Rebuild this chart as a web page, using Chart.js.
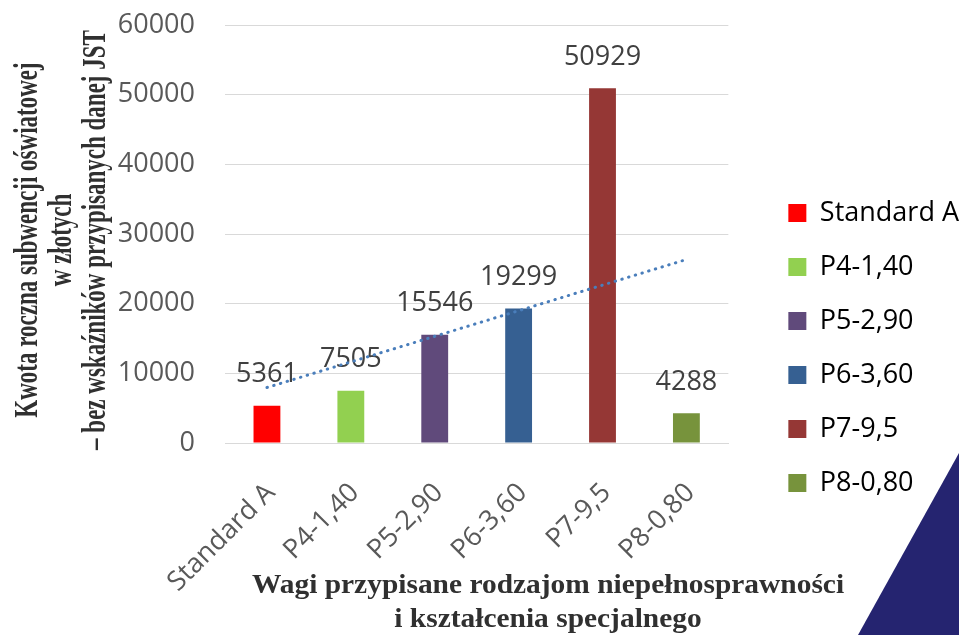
<!DOCTYPE html>
<html>
<head>
<meta charset="utf-8">
<script src="https://cdn.jsdelivr.net/npm/chart.js@4.4.1/dist/chart.umd.min.js"></script>
<style>
  html, body { margin: 0; padding: 0; background: #ffffff; }
  #wrap { width: 959px; height: 635px; position: relative; }
</style>
</head>
<body>
<div id="wrap"><canvas id="subsidyChart"></canvas></div>
<script>
const categories = ['Standard A', 'P4-1,40', 'P5-2,90', 'P6-3,60', 'P7-9,5', 'P8-0,80'];
const amounts = [5361, 7505, 15546, 19299, 50929, 4288];
const barColors = ['#FF0000', '#92D050', '#604A7B', '#366092', '#953735', '#77933C'];
// dotted linear trend, read at first and last category
const trendValues = [7960, null, null, null, null, 26340];
const yTitle = ['Kwota roczna subwencji oświatowej', 'w złotych', '– bez wskaźników przypisanych danej JST'];
const xTitle = ['Wagi przypisane rodzajom niepełnosprawności', 'i kształcenia specjalnego'];

const labelFont = { family: "'Open Sans', sans-serif", size: 27 };
const titleFont = "bold 23px 'Liberation Serif', serif";

// value labels above the bars
const barLabels = {
  id: 'barLabels',
  afterDatasetDraw(chart, args) {
    if (args.index !== 0) return;
    const ctx = chart.ctx;
    ctx.save();
    ctx.font = "27px 'Open Sans', sans-serif";
    ctx.fillStyle = '#404040';
    ctx.textAlign = 'center';
    ctx.textBaseline = 'middle';
    args.meta.data.forEach((bar, i) => {
      ctx.fillText(String(amounts[i]), bar.x, bar.y - 31);
    });
    ctx.restore();
  }
};

// axis titles (the source has them stretched) and the corner shape
const extras = {
  id: 'extras',
  afterDraw(chart) {
    const ctx = chart.ctx;
    ctx.save();
    ctx.fillStyle = '#252470';
    ctx.beginPath();
    ctx.moveTo(959, 453);
    ctx.lineTo(959, 635);
    ctx.lineTo(858, 635);
    ctx.closePath();
    ctx.fill();
    ctx.restore();

    ctx.save();
    ctx.fillStyle = '#303030';
    ctx.textAlign = 'center';

    // y title: three rotated lines
    ctx.font = titleFont;
    ctx.textBaseline = 'middle';
    yTitle.forEach((line, i) => {
      ctx.save();
      ctx.translate(28 + i * 34, 240);
      ctx.rotate(-Math.PI / 2);
      ctx.scale(1, 1.5);
      ctx.fillText(line, 0, 0);
      ctx.restore();
    });

    // x title: two lines
    ctx.font = "bold 27px 'Liberation Serif', serif";
    ctx.textBaseline = 'alphabetic';
    xTitle.forEach((line, i) => {
      ctx.save();
      ctx.translate(548, 593 + i * 34);
      ctx.scale(1.09, 1);
      ctx.fillText(line, 0, 0);
      ctx.restore();
    });
    ctx.restore();
  }
};

// push the legend a little right and down
const legendSpot = {
  id: 'legendSpot',
  afterLayout(chart) {
    chart.legend.left += 33;
    chart.legend.right += 33;
    chart.legend.top += 18;
    chart.legend.bottom += 18;
  }
};

const ctx = document.getElementById('subsidyChart').getContext('2d');

const chart = new Chart(ctx, {
  data: {
    labels: categories,
    datasets: [
      {
        type: 'bar',
        data: amounts,
        backgroundColor: barColors,
        barPercentage: 0.32,
        categoryPercentage: 1,
        order: 2,
      },
      {
        type: 'line',
        data: trendValues,
        borderColor: '#4A7EBB',
        borderWidth: 3,
        borderDash: [0.5, 6.5],
        borderCapStyle: 'round',
        pointRadius: 0,
        spanGaps: true,
        fill: false,
        order: 1,
      },
    ],
  },
  options: {
    responsive: true,
    maintainAspectRatio: false,
    animation: false,
    layout: {
      padding: { top: 25, right: 23, left: 0, bottom: 0 },
    },
    scales: {
      x: {
        afterFit(scale) { scale.height = 192; },
        grid: { display: false },
        border: { color: '#d9d9d9' },
        ticks: {
          color: '#595959',
          font: labelFont,
          maxRotation: 45,
          minRotation: 45,
          padding: 26,
          labelOffset: 4,
        },
      },
      y: {
        afterFit(scale) {
          scale.width = 225;
          scale.paddingTop = 0;
          scale.paddingBottom = 0;
        },
        min: 0,
        max: 60000,
        ticks: {
          stepSize: 10000,
          color: '#595959',
          font: labelFont,
          padding: 30,
          callback: (v) => String(v),
        },
        grid: { color: '#d9d9d9', drawTicks: false },
        border: { display: false },
      },
    },
    plugins: {
      legend: {
        display: true,
        position: 'right',
        labels: {
          color: '#595959',
          font: labelFont,
          boxWidth: 18,
          boxHeight: 18,
          padding: 27,
          generateLabels(chart) {
            return categories.map((c, i) => ({
              text: c,
              fillStyle: barColors[i],
              strokeStyle: barColors[i],
              lineWidth: 0,
              hidden: false,
              index: i,
            }));
          },
        },
      },
      tooltip: { enabled: false },
    },
  },
  plugins: [barLabels, extras, legendSpot],
});
</script>
</body>
</html>
